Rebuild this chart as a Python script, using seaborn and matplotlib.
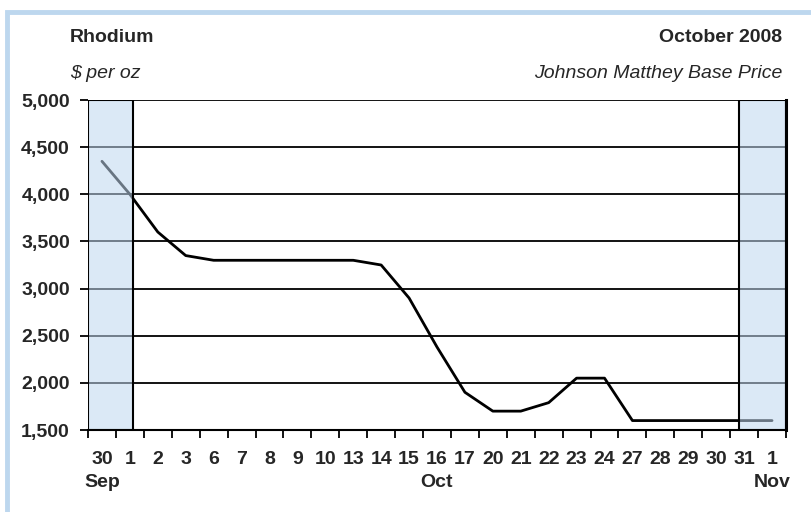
import matplotlib
matplotlib.use("Agg")
import matplotlib.pyplot as plt
from matplotlib.patches import Rectangle
import numpy as np
import pandas as pd
import seaborn as sns

# Trading days shown on the axis (Sep 30 through Nov 1, 2008)
day_labels = ["30", "1", "2", "3", "6", "7", "8", "9", "10", "13", "14", "15", "16",
              "17", "20", "21", "22", "23", "24", "27", "28", "29", "30", "31", "1"]
month_labels = {0: "Sep", 12: "Oct", 24: "Nov"}

# Johnson Matthey base price for rhodium, $ per oz
prices = [4350, 4000, 3600, 3350, 3300, 3300, 3300, 3300, 3300, 3300, 3250, 2900, 2380,
          1900, 1700, 1700, 1790, 2050, 2050, 1600, 1600, 1600, 1600, 1600, 1600]

y_ticks = [1500, 2000, 2500, 3000, 3500, 4000, 4500, 5000]

df = pd.DataFrame({"pos": np.arange(len(prices)), "price": prices})

sns.set_theme(style="white")
plt.rcParams["font.family"] = ["Liberation Sans", "DejaVu Sans"]

fig = plt.figure(figsize=(8.12, 5.12), dpi=100)
fig.patch.set_facecolor("white")

# light blue frame around the panel
fig.patches.append(Rectangle((7 / 812, -0.1), 1.2, (512 - 12) / 512 + 0.1,
                             transform=fig.transFigure, fill=False,
                             edgecolor="#bdd7ee", linewidth=3.5, zorder=0))

ax = fig.add_axes([88 / 812, (512 - 430) / 512, (786 - 88) / 812, (430 - 100) / 512])
ax.set_facecolor("white")

# horizontal grid
for v in y_ticks:
    ax.axhline(v, color="black", linewidth=1.3, zorder=1)

sns.lineplot(data=df, x="pos", y="price", ax=ax, color="black", linewidth=2.0,
             zorder=3, legend=False)

# shaded out-of-month periods
spans = [(-0.5, 1.12), (22.82, 24.5)]
for x0, x1 in spans:
    ax.axvspan(x0, x1, facecolor="#bfd7ef", alpha=0.55, edgecolor="none", zorder=4)
    ax.axvspan(x0, x1, facecolor="none", edgecolor="black", linewidth=1.5, zorder=5)

ax.set_xlim(-0.5, len(prices) - 0.5)
ax.set_ylim(1500, 5000)

for s in ["top", "left"]:
    ax.spines[s].set_visible(False)
ax.spines["bottom"].set_color("black")
ax.spines["bottom"].set_linewidth(1.5)
ax.spines["right"].set_color("black")
ax.spines["right"].set_linewidth(2.2)
ax.spines["right"].set_zorder(6)

ax.set_yticks(y_ticks)
ax.set_yticklabels([f"{v:,}" for v in y_ticks], fontsize=14, fontweight="bold")
ax.tick_params(axis="y", direction="out", length=6, width=1.3, color="black", pad=7, left=True)

# day numbers on the major ticks, boundary tick marks on the minor ticks
ax.set_xticks(np.arange(len(prices)))
ax.set_xticklabels(day_labels, fontsize=14, fontweight="bold")
ax.tick_params(axis="x", which="major", length=0, pad=15)
ax.set_xticks(np.arange(len(prices) + 1) - 0.5, minor=True)
ax.tick_params(axis="x", which="minor", direction="out", length=6, width=1.3,
               color="black", bottom=True)

# month names under the first day of each month shown
for i, m in month_labels.items():
    ax.annotate(m, xy=(i, 0), xycoords=ax.get_xaxis_transform(),
                xytext=(0, -38), textcoords="offset points",
                ha="center", va="center", fontsize=14, fontweight="bold")

ax.set_xlabel("")
ax.set_ylabel("")

fig.text(70 / 812, 1 - 37 / 512, "Rhodium", fontsize=14, fontweight="bold",
         ha="left", va="center")
fig.text(782 / 812, 1 - 37 / 512, "October 2008", fontsize=14, fontweight="bold",
         ha="right", va="center")
fig.text(70 / 812, 1 - 74 / 512, "$ per oz", fontsize=14, fontstyle="italic",
         ha="left", va="center")
fig.text(782 / 812, 1 - 74 / 512, "Johnson Matthey Base Price", fontsize=14,
         fontstyle="italic", ha="right", va="center")

fig.savefig("out.png", dpi=100, facecolor="white")
